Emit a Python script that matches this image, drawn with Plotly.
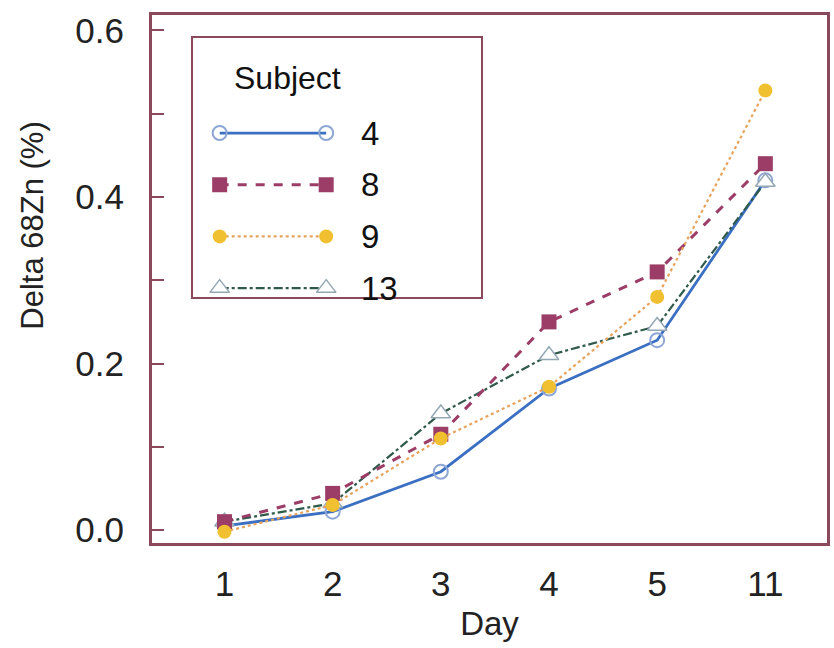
import plotly.graph_objects as go

days = ["1", "2", "3", "4", "5", "11"]
subjects = ["4", "8", "9", "13"]
s4 = [0.005, 0.022, 0.07, 0.17, 0.228, 0.42]
s8 = [0.01, 0.044, 0.115, 0.25, 0.31, 0.44]
s9 = [-0.002, 0.03, 0.11, 0.172, 0.28, 0.528]
s13 = [0.01, 0.032, 0.14, 0.21, 0.245, 0.418]
yticks = [0.0, 0.2, 0.4, 0.6]
ytick_labels = ["0.0", "0.2", "0.4", "0.6"]

FONT = "Liberation Sans, Arial, sans-serif"
FRAME = "#8a4a5c"

styles = {
    "4": dict(line=dict(color="#3b6fc2", width=2.8, dash="solid"),
              marker=dict(symbol="circle-open", size=14, color="#8ea6d6", line=dict(width=2)), data=s4),
    "8": dict(line=dict(color="#9b3d66", width=3, dash="dash"),
              marker=dict(symbol="square", size=15, color="#9b3d66"), data=s8),
    "9": dict(line=dict(color="#e7a35c", width=2.2, dash="dot"),
              marker=dict(symbol="circle", size=14, color="#f0c030"), data=s9),
    "13": dict(line=dict(color="#2f5a4a", width=2.2, dash="dashdot"),
               marker=dict(symbol="triangle-up", size=17, color="white", line=dict(color="#94a8b4", width=1.5)), data=s13),
}

xpos = list(range(len(days)))
fig = go.Figure()
for s in ["4", "13", "8", "9"]:
    st = styles[s]
    fig.add_trace(go.Scatter(x=xpos, y=st["data"], mode="lines+markers", name=s,
                             line=st["line"], marker=st["marker"], showlegend=False,
                             xaxis="x", yaxis="y"))

# legend drawn as an inset axes: each subject a two-point sample line
for k, s in enumerate(subjects):
    st = styles[s]
    fig.add_trace(go.Scatter(x=[0, 1], y=[k, k], mode="lines+markers",
                             line=st["line"], marker=st["marker"], showlegend=False,
                             xaxis="x2", yaxis="y2", hoverinfo="skip"))
    fig.add_annotation(x=1.31, y=k, xref="x2", yref="y2", text=s, showarrow=False,
                       xanchor="left", yanchor="middle", font=dict(family=FONT, size=33, color="#111"))
fig.add_annotation(x=0.12, y=-1.06, xref="x2", yref="y2", text="Subject", showarrow=False,
                   xanchor="left", yanchor="middle", font=dict(family=FONT, size=32, color="#111"))

fig.add_annotation(x=-0.177, y=0.6, xref="paper", yref="paper", text="Delta 68Zn (%)",
                   textangle=-90, showarrow=False, xanchor="center", yanchor="middle",
                   font=dict(family=FONT, size=31, color="#222"))

fig.update_layout(
    width=834, height=648,
    margin=dict(l=152, r=4, t=15, b=105),
    paper_bgcolor="white", plot_bgcolor="white",
    font=dict(family=FONT, color="#222"),
    xaxis=dict(range=[-0.67, 5.57], tickvals=xpos, ticktext=days, showgrid=False, zeroline=False,
               showline=True, mirror=True, linecolor=FRAME, linewidth=3, ticks="",
               tickfont=dict(size=35, color="#222"), ticklabelstandoff=8,
               title=dict(text="Day", font=dict(size=33, color="#222"), standoff=10)),
    yaxis=dict(range=[-0.0156, 0.6186], tickvals=yticks, ticktext=ytick_labels, showgrid=False,
               zeroline=False, showline=True, mirror=True, linecolor=FRAME, linewidth=3,
               ticks="inside", ticklen=12, tickwidth=1.5, tickcolor=FRAME,
               tickfont=dict(size=35, color="#222"), ticklabelstandoff=18,
               minor=dict(tickvals=[0.1, 0.3, 0.5], ticks="inside", ticklen=12, tickwidth=1.5, tickcolor=FRAME)),
    xaxis2=dict(domain=[0.0605, 0.4867], range=[-0.252, 2.449], anchor="y2", visible=True,
                showgrid=False, zeroline=False, showticklabels=False, ticks="",
                showline=True, mirror=True, linecolor=FRAME, linewidth=2),
    yaxis2=dict(domain=[0.4659, 0.9564], range=[3.172, -1.838], anchor="x2",
                showgrid=False, zeroline=False, showticklabels=False, ticks="",
                showline=True, mirror=True, linecolor=FRAME, linewidth=2),
)

fig.write_html("out.html")
